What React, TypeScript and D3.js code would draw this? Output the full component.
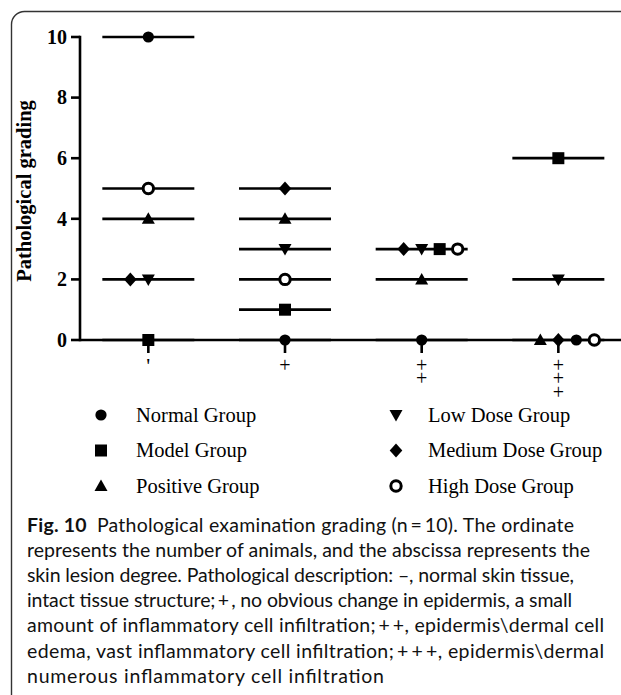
import React from "react";
import * as d3 from "d3";

// ---- data ----
const categories = ["-", "+", "++", "+++"];
const categoryLabels = ["'", "+", "++", "+++"];
const groups = [
  "Normal Group",
  "Model Group",
  "Positive Group",
  "Low Dose Group",
  "Medium Dose Group",
  "High Dose Group",
];
const shapes = ["circle", "square", "triUp", "triDown", "diamond", "ring"];
// number of animals per skin lesion degree
const normalValues = [10, 0, 0, 0];
const modelValues = [0, 1, 3, 6];
const positiveValues = [4, 4, 2, 0];
const lowValues = [2, 3, 3, 2];
const mediumValues = [2, 5, 3, 0];
const highValues = [5, 2, 3, 0];
const groupValues = [normalValues, modelValues, positiveValues, lowValues, mediumValues, highValues];
// left-to-right order of tied markers in each category
const tieOrder = [
  ["Medium Dose Group", "Low Dose Group"],
  [],
  ["Medium Dose Group", "Low Dose Group", "Model Group", "High Dose Group"],
  ["Positive Group", "Medium Dose Group", "Normal Group", "High Dose Group"],
];
const yTicks = [0, 2, 4, 6, 8, 10];
const yTitle = "Pathological grading";
const legendCol1 = ["Normal Group", "Model Group", "Positive Group"];
const legendCol2 = ["Low Dose Group", "Medium Dose Group", "High Dose Group"];
const captionLines = [
  "Pathological examination grading (n\u2009=\u200910). The ordinate",
  "represents the number of animals, and the abscissa represents the",
  "skin lesion degree. Pathological description: \u2013, normal skin tissue,",
  "intact tissue structure;\u2009+\u2009, no obvious change in epidermis, a small",
  "amount of inflammatory cell infiltration;\u2009+\u2009+, epidermis\\dermal cell",
  "edema, vast inflammatory cell infiltration;\u2009+\u2009+\u2009+, epidermis\\dermal",
  "numerous inflammatory cell infiltration",
];
const captionEnds = [574, 590, 574, 572, 604, 604, 384];

function Marker({ shape, x, y }: { shape: string; x: number; y: number }) {
  const t = `translate(${x},${y})`;
  switch (shape) {
    case "circle":
      return <circle cx={x} cy={y} r={5.6} fill="#000" />;
    case "square":
      return <rect x={x - 6} y={y - 6} width={12} height={12} fill="#000" />;
    case "triUp":
      return <path transform={t} d="M0,-6.5L6.5,5L-6.5,5Z" fill="#000" />;
    case "triDown":
      return <path transform={t} d="M0,6.5L6.5,-5L-6.5,-5Z" fill="#000" />;
    case "diamond":
      return <path transform={t} d="M0,-7L6.3,0L0,7L-6.3,0Z" fill="#000" />;
    case "ring":
      return <circle cx={x} cy={y} r={5.2} fill="#fff" stroke="#000" strokeWidth={3} />;
  }
  return null;
}

export default function App() {
  const W = 621;
  const H = 695;
  const x0 = 80;
  const step = 136.67;
  const x = d3.scaleBand<string>().domain(categories).range([x0, x0 + step * categories.length]).padding(0);
  const y = d3.scaleLinear().domain([0, 10]).range([340, 37]);
  const cx = (c: string) => (x(c) as number) + x.bandwidth() / 2;
  const halfLine = 46;
  const tieStep = 18;

  // horizontal lines: one per distinct value within each category
  const lines: { c: string; v: number }[] = [];
  categories.forEach((c, ci) => {
    const vals = Array.from(new Set(groupValues.map((g) => g[ci])));
    vals.forEach((v) => lines.push({ c, v }));
  });

  const points: { c: string; v: number; shape: string; dx: number }[] = [];
  categories.forEach((c, ci) => {
    groups.forEach((g, gi) => {
      const v = groupValues[gi][ci];
      const tied = groups.filter((_, k) => groupValues[k][ci] === v).length > 1;
      const slot = tied ? tieOrder[ci].indexOf(g) - 1 : 0;
      points.push({ c, v, shape: shapes[gi], dx: slot * tieStep });
    });
  });

  const serif = "'Liberation Serif', 'Times New Roman', serif";
  const sans = "Lato, 'Open Sans', sans-serif";

  return (
    <svg
      width={W}
      height={H}
      style={{ position: "absolute", left: 0, top: 0, display: "block", background: "#fff" }}
    >
      <rect x={0} y={0} width={W} height={H} fill="#fff" />
      {/* frame */}
      <rect x={11.5} y={11.5} width={W + 20} height={H + 20} rx={13} ry={13} fill="none" stroke="#333" strokeWidth={1.4} />

      {/* group lines */}
      {lines.map((l, i) => (
        <line
          key={"l" + i}
          x1={cx(l.c) - halfLine}
          x2={cx(l.c) + halfLine}
          y1={y(l.v)}
          y2={y(l.v)}
          stroke="#000"
          strokeWidth={2.7}
        />
      ))}

      {/* y axis */}
      <line x1={x0} x2={x0} y1={y(10) - 1.2} y2={y(0) + 1.3} stroke="#000" strokeWidth={2.6} />
      {yTicks.map((t) => (
        <g key={"yt" + t}>
          <line x1={x0 - 9} x2={x0} y1={y(t)} y2={y(t)} stroke="#000" strokeWidth={2.6} />
          <text
            x={x0 - 13}
            y={y(t)}
            dy="0.34em"
            textAnchor="end"
            fontFamily={serif}
            fontWeight="bold"
            fontSize={20}
          >
            {t}
          </text>
        </g>
      ))}
      <text
        transform={`translate(31,191) rotate(-90)`}
        textAnchor="middle"
        fontFamily={serif}
        fontWeight="bold"
        fontSize={20.5}
      >
        {yTitle}
      </text>

      {/* x axis */}
      <line x1={x0} x2={x0 + step * categories.length} y1={y(0)} y2={y(0)} stroke="#000" strokeWidth={2.7} />
      {categories.map((c, ci) => (
        <g key={"xt" + c}>
          <line x1={cx(c)} x2={cx(c)} y1={y(0)} y2={y(0) + 13} stroke="#000" strokeWidth={2.6} />
          {ci === 0 ? (
            <text x={cx(c)} y={373} textAnchor="middle" fontFamily={serif} fontSize={22}>
              {categoryLabels[ci]}
            </text>
          ) : (
            <text
              x={cx(c)}
              y={354}
              fontFamily={serif}
              fontSize={20}
              style={{ writingMode: "vertical-rl", textOrientation: "upright", letterSpacing: "-8.6px" } as any}
            >
              {categoryLabels[ci]}
            </text>
          )}
        </g>
      ))}

      {/* markers */}
      {points.map((p, i) => (
        <Marker key={"p" + i} shape={p.shape} x={cx(p.c) + p.dx} y={y(p.v)} />
      ))}

      {/* legend */}
      {legendCol1.map((g, i) => (
        <g key={"lg1" + g}>
          <Marker shape={shapes[groups.indexOf(g)]} x={101} y={415 + i * 35.5} />
          <text x={136} y={415 + i * 35.5} dy="0.33em" fontFamily={serif} fontSize={20.5}>
            {g}
          </text>
        </g>
      ))}
      {legendCol2.map((g, i) => (
        <g key={"lg2" + g}>
          <Marker shape={shapes[groups.indexOf(g)]} x={396} y={415 + i * 35.5} />
          <text x={428} y={415 + i * 35.5} dy="0.33em" fontFamily={serif} fontSize={20.5}>
            {g}
          </text>
        </g>
      ))}

      {/* caption */}
      {captionLines.map((line, i) => (
        <text
          key={"c" + i}
          x={27}
          y={532 + i * 25.1}
          fontFamily={sans}
          fontSize={19.5}
          fill="#111"
          textLength={captionEnds[i] - 27}
          lengthAdjust="spacing"
        >
          {i === 0 ? (
            <>
              <tspan fontWeight="bold">Fig. 10</tspan>
              <tspan>{"\u2002" + line}</tspan>
            </>
          ) : (
            line
          )}
        </text>
      ))}
    </svg>
  );
}
